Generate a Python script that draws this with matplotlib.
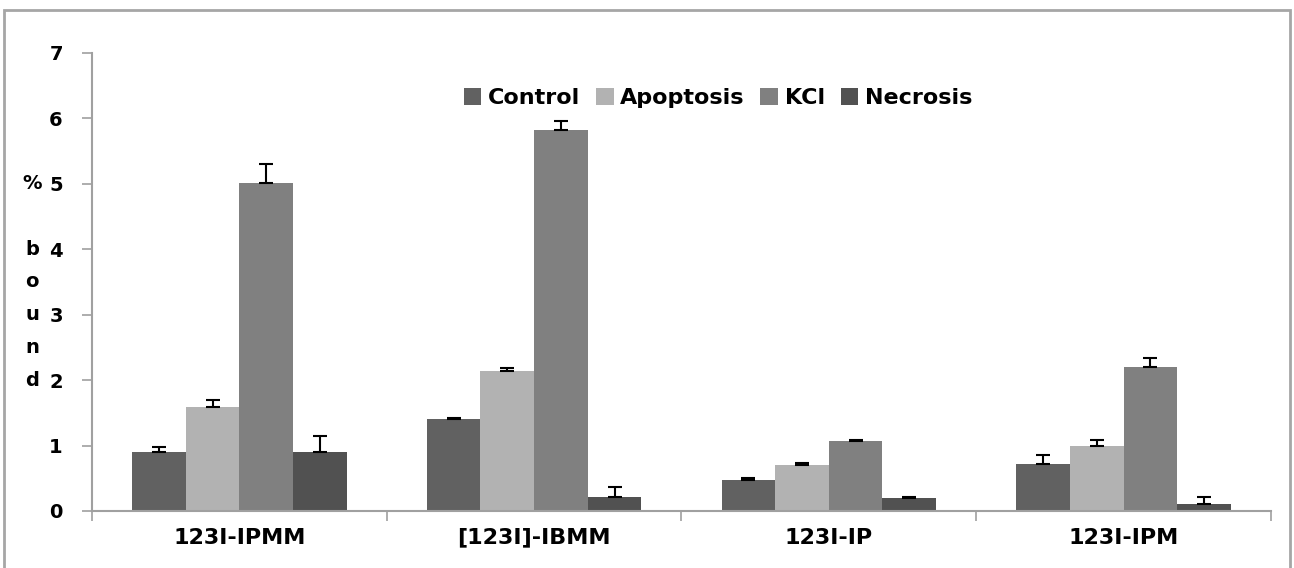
import matplotlib.pyplot as plt
import matplotlib.transforms as mtransforms
from matplotlib.patches import Rectangle
import numpy as np

categorias = ["123I-IPMM", "[123I]-IBMM", "123I-IP", "123I-IPM"]
series = ["Control", "Apoptosis", "KCl", "Necrosis"]

control = [0.90, 1.40, 0.48, 0.72]
apoptosis = [1.59, 2.14, 0.70, 1.00]
kcl = [5.02, 5.83, 1.07, 2.20]
necrosis = [0.90, 0.22, 0.20, 0.11]

err_control = [0.08, 0.02, 0.02, 0.13]
err_apoptosis = [0.11, 0.04, 0.04, 0.09]
err_kcl = [0.28, 0.13, 0.02, 0.14]
err_necrosis = [0.25, 0.14, 0.02, 0.11]

valores = [control, apoptosis, kcl, necrosis]
errores = [err_control, err_apoptosis, err_kcl, err_necrosis]
colores = ["#616161", "#b2b2b2", "#808080", "#515151"]

fig = plt.figure(figsize=(12.94, 5.68), dpi=100)
ax = fig.add_axes([0.0711, 0.1004, 0.9111, 0.8063])

# marco gris de la figura
fig.patches.append(Rectangle((0.003, -0.1), 0.994, 1.083, transform=fig.transFigure,
                             fill=False, edgecolor="#a6a6a6", linewidth=2))

x = np.arange(len(categorias))
ancho = 0.182
for i, (vals, errs) in enumerate(zip(valores, errores)):
    pos = x + (i - 1.5) * ancho
    ax.bar(pos, vals, ancho, color=colores[i], label=series[i], zorder=2)
    ax.errorbar(pos, vals, yerr=[np.zeros(len(errs)), errs], fmt="none",
                ecolor="black", elinewidth=1.5, capsize=5, capthick=1.5, zorder=3)

ax.set_xlim(-0.5, 3.5)
ax.set_ylim(0, 7)
ax.set_yticks(range(8))
ax.set_yticklabels([str(v) for v in range(8)], fontsize=14, fontweight="bold")

# ticks en los limites de categorias, etiquetas al centro
ax.set_xticks(np.arange(-0.5, 4, 1))
ax.set_xticklabels([])
ax.set_xticks(x, minor=True)
ax.set_xticklabels(categorias, minor=True, fontsize=16, fontweight="bold")
ax.tick_params(axis="x", which="minor", length=0, pad=12)
ax.tick_params(axis="x", which="major", length=7, color="#a0a0a0", width=1.2)
ax.tick_params(axis="y", length=7, color="#a0a0a0", width=1.2, pad=14)

for lado in ["top", "right"]:
    ax.spines[lado].set_visible(False)
for lado in ["left", "bottom"]:
    ax.spines[lado].set_color("#a0a0a0")
    ax.spines[lado].set_linewidth(1.5)

# etiqueta vertical "% bound"
trans = mtransforms.blended_transform_factory(fig.transFigure, ax.transData)
letras = ["%", "b", "o", "u", "n", "d"]
alturas = [5, 4, 3.5, 3, 2.5, 2]
for letra, h in zip(letras, alturas):
    ax.text(0.025, h, letra, transform=trans, fontsize=14, fontweight="bold",
            ha="center", va="center", clip_on=False)

ax.legend(loc="center", bbox_to_anchor=(0.531, 0.902), ncol=4, frameon=False,
          prop={"size": 16, "weight": "bold"}, handlelength=0.8, handleheight=0.8,
          handletextpad=0.3, columnspacing=0.7)

fig.savefig("out.png", dpi=100)
